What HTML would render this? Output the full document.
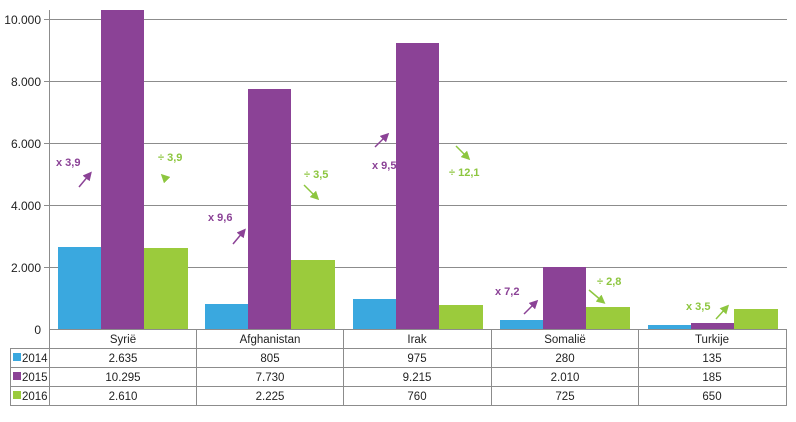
<!DOCTYPE html>
<html><head><meta charset="utf-8"><style>
body{margin:0;background:#fff;}
svg text{font-family:"Liberation Sans",sans-serif;}
</style></head><body>
<svg width="796" height="417" xmlns="http://www.w3.org/2000/svg">
<defs>
<marker id="hp" markerWidth="6" markerHeight="6" refX="3" refY="3" orient="auto"><path d="M0,0 L6,3 L0,6 z" fill="#8b4296"/></marker>
<marker id="hg" markerWidth="6" markerHeight="6" refX="3" refY="3" orient="auto"><path d="M0,0 L6,3 L0,6 z" fill="#8dc63f"/></marker>
</defs>
<g stroke="#8c8c8c" stroke-width="1">
<line x1="44" y1="19.5" x2="787" y2="19.5"/>
<line x1="44" y1="81.5" x2="787" y2="81.5"/>
<line x1="44" y1="143.5" x2="787" y2="143.5"/>
<line x1="44" y1="205.5" x2="787" y2="205.5"/>
<line x1="44" y1="267.5" x2="787" y2="267.5"/>
<line x1="49.5" y1="10" x2="49.5" y2="405"/>
</g>
<g font-size="12" fill="#222" text-anchor="end">
<text x="41" y="24">10.000</text><text x="41" y="86">8.000</text><text x="41" y="148">6.000</text>
<text x="41" y="210">4.000</text><text x="41" y="272">2.000</text><text x="41" y="334">0</text>
</g>
<g id="bars">
<!-- Syrie -->
<rect x="58" y="247" width="43" height="82" fill="#3aa8df"/>
<rect x="101" y="10" width="43" height="319" fill="#8b4296"/>
<rect x="144" y="248" width="44" height="81" fill="#9bcb3c"/>
<!-- Afghanistan -->
<rect x="205" y="304" width="43" height="25" fill="#3aa8df"/>
<rect x="248" y="89" width="43" height="240" fill="#8b4296"/>
<rect x="291" y="260" width="44" height="69" fill="#9bcb3c"/>
<!-- Irak -->
<rect x="353" y="299" width="43" height="30" fill="#3aa8df"/>
<rect x="396" y="43" width="43" height="286" fill="#8b4296"/>
<rect x="439" y="305" width="44" height="24" fill="#9bcb3c"/>
<!-- Somalie -->
<rect x="500" y="320" width="43" height="9" fill="#3aa8df"/>
<rect x="543" y="267" width="43" height="62" fill="#8b4296"/>
<rect x="586" y="307" width="44" height="22" fill="#9bcb3c"/>
<!-- Turkije -->
<rect x="648" y="325" width="43" height="4" fill="#3aa8df"/>
<rect x="691" y="323" width="43" height="6" fill="#8b4296"/>
<rect x="734" y="309" width="44" height="20" fill="#9bcb3c"/>
</g>
<g stroke="#8c8c8c" stroke-width="1" fill="none">
<line x1="49" y1="329.5" x2="787" y2="329.5"/>
<line x1="10" y1="348.5" x2="787" y2="348.5"/>
<line x1="10" y1="367.5" x2="787" y2="367.5"/>
<line x1="10" y1="386.5" x2="787" y2="386.5"/>
<line x1="10" y1="405.5" x2="787" y2="405.5"/>
<line x1="10.5" y1="348" x2="10.5" y2="405"/>
<line x1="196.5" y1="329" x2="196.5" y2="405"/>
<line x1="343.5" y1="329" x2="343.5" y2="405"/>
<line x1="491.5" y1="329" x2="491.5" y2="405"/>
<line x1="638.5" y1="329" x2="638.5" y2="405"/>
<line x1="786.5" y1="329" x2="786.5" y2="405"/>
</g>
<rect x="13" y="353" width="8" height="8" fill="#3aa8df"/>
<rect x="13" y="372" width="8" height="8" fill="#8b4296"/>
<rect x="13" y="391" width="8" height="8" fill="#9bcb3c"/>
<g font-size="11.5" fill="#222">
<text x="22" y="362">2014</text><text x="22" y="381">2015</text><text x="22" y="400">2016</text>
</g>
<g font-size="11.5" fill="#222" text-anchor="middle">
<text x="123" y="343">Syrië</text><text x="270" y="343">Afghanistan</text><text x="417" y="343">Irak</text><text x="565" y="343">Somalië</text><text x="712" y="343">Turkije</text>
<text x="123" y="362">2.635</text><text x="270" y="362">805</text><text x="417" y="362">975</text><text x="565" y="362">280</text><text x="712" y="362">135</text>
<text x="123" y="381">10.295</text><text x="270" y="381">7.730</text><text x="417" y="381">9.215</text><text x="565" y="381">2.010</text><text x="712" y="381">185</text>
<text x="123" y="400">2.610</text><text x="270" y="400">2.225</text><text x="417" y="400">760</text><text x="565" y="400">725</text><text x="712" y="400">650</text>
</g>
<g font-size="11" font-weight="bold">
<text x="56" y="166" fill="#8b4296">x 3,9</text>
<text x="158" y="161" fill="#8dc63f">÷ 3,9</text>
<text x="208" y="221" fill="#8b4296">x 9,6</text>
<text x="304" y="178" fill="#8dc63f">÷ 3,5</text>
<text x="372" y="169" fill="#8b4296">x 9,5</text>
<text x="449" y="176" fill="#8dc63f">÷ 12,1</text>
<text x="495" y="295" fill="#8b4296">x 7,2</text>
<text x="597" y="285" fill="#8dc63f">÷ 2,8</text>
<text x="686" y="310" fill="#8dc63f">x 3,5</text>
</g>
<g stroke-width="1.5">
<line x1="79" y1="187" x2="89" y2="175" stroke="#8b4296" marker-end="url(#hp)"/>
<line x1="166" y1="179" x2="164" y2="177" stroke="#8dc63f" marker-end="url(#hg)"/>
<line x1="233" y1="244" x2="243" y2="232" stroke="#8b4296" marker-end="url(#hp)"/>
<line x1="304" y1="185" x2="316" y2="197" stroke="#8dc63f" marker-end="url(#hg)"/>
<line x1="375" y1="147" x2="386" y2="136" stroke="#8b4296" marker-end="url(#hp)"/>
<line x1="456" y1="146" x2="467" y2="157" stroke="#8dc63f" marker-end="url(#hg)"/>
<line x1="524" y1="314" x2="535" y2="303" stroke="#8b4296" marker-end="url(#hp)"/>
<line x1="589" y1="290" x2="602" y2="301" stroke="#8dc63f" marker-end="url(#hg)"/>
<line x1="716" y1="319" x2="726" y2="308" stroke="#8dc63f" marker-end="url(#hg)"/>
</g>
</svg>
</body></html>
